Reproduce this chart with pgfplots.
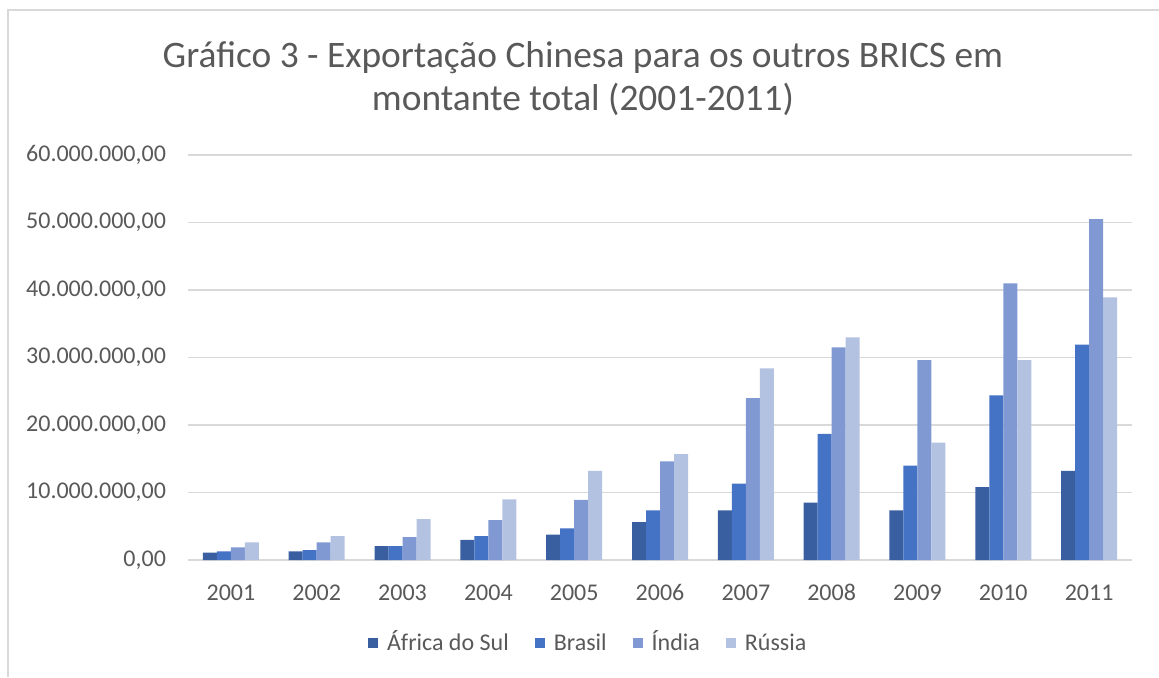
\documentclass[border=0pt]{standalone}
\usepackage{pgfplots}
\pgfplotsset{compat=1.18}
\usepackage{fontspec}
\setmainfont{Carlito}
\definecolor{txt}{HTML}{595959}
\definecolor{gridc}{HTML}{D9D9D9}
\definecolor{cA}{HTML}{3A5FA0}
\definecolor{cB}{HTML}{4472C4}
\definecolor{cC}{HTML}{8099D2}
\definecolor{cD}{HTML}{B4C2E2}
\begin{document}
\begin{tikzpicture}[x=0.5pt,y=0.5pt]
\path[use as bounding box] (0,0) rectangle (1159,677);
\draw[gridc,line width=1pt] (8,0) -- (8,667) -- (1159,667);
\node[txt,font=\fontsize{18.7}{21.5}\selectfont,align=center] at (583,598) {Gráfico 3 - Exportação Chinesa para os outros BRICS em\\ montante total (2001-2011)};
\begin{axis}[
  at={(94pt,58.5pt)}, anchor=south west,
  scale only axis, width=472pt, height=202.5pt,
  ybar=0pt, bar width=7pt,
  xmin=-0.5, xmax=10.5,
  ymin=0, ymax=60000000,
  ytick={0,10000000,20000000,30000000,40000000,50000000,60000000},
  yticklabels={{0,00},{10.000.000,00},{20.000.000,00},{30.000.000,00},{40.000.000,00},{50.000.000,00},{60.000.000,00}},
  xtick={0,...,10},
  xticklabels={2001,2002,2003,2004,2005,2006,2007,2008,2009,2010,2011},
  scaled y ticks=false,
  axis line style={draw=none},
  axis x line*=bottom,
  x axis line style={draw=gridc,line width=1pt},
  ymajorgrids, grid style={gridc,line width=0.8pt},
  major tick length=0pt,
  tick label style={txt,font=\fontsize{12}{14}\selectfont},
  yticklabel style={xshift=-7.5pt},
  xticklabel style={yshift=-8pt,text height=8.5pt,text depth=2pt},
  legend style={at={(0.425,-0.205)},anchor=center,draw=none,legend columns=4,
    font=\fontsize{12}{14}\selectfont,text=txt,
    nodes={text height=9.5pt,text depth=2.5pt},
    /tikz/every even column/.append style={column sep=11pt},
    /tikz/every odd column/.append style={column sep=2.5pt}},
  legend image code/.code={\fill[#1] (0pt,-2.5pt) rectangle (5pt,2.5pt);},
  clip=false,
]
\addplot[fill=cA,draw=none] coordinates {(0,1080000)(1,1280000)(2,2070000)(3,3000000)(4,3750000)(5,5630000)(6,7360000)(7,8500000)(8,7360000)(9,10800000)(10,13200000)};
\addplot[fill=cB,draw=none] coordinates {(0,1280000)(1,1480000)(2,2070000)(3,3550000)(4,4700000)(5,7360000)(6,11300000)(7,18700000)(8,14000000)(9,24400000)(10,31900000)};
\addplot[fill=cC,draw=none] coordinates {(0,1880000)(1,2620000)(2,3400000)(3,5900000)(4,8900000)(5,14600000)(6,24000000)(7,31500000)(8,29600000)(9,41000000)(10,50500000)};
\addplot[fill=cD,draw=none] coordinates {(0,2620000)(1,3550000)(2,6070000)(3,9000000)(4,13200000)(5,15700000)(6,28400000)(7,33000000)(8,17400000)(9,29600000)(10,38900000)};
\legend{África do Sul,Brasil,Índia,Rússia}
\end{axis}
\end{tikzpicture}
\end{document}
